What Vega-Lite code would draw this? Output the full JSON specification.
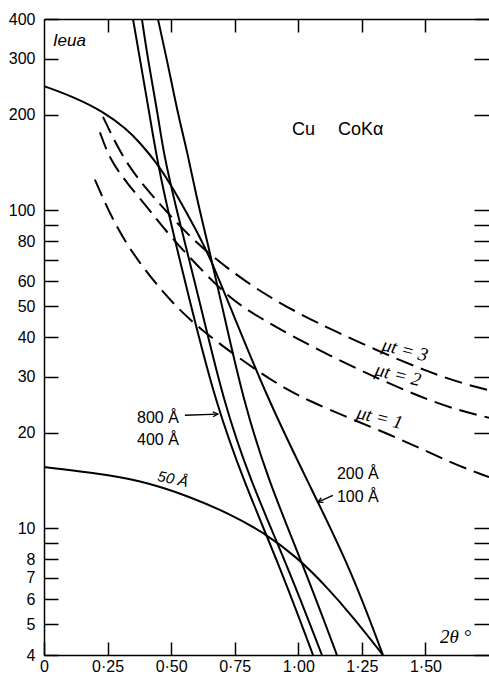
{
  "$schema": "https://vega.github.io/schema/vega-lite/v6.json",
  "width": 445,
  "height": 636,
  "autosize": {"type": "none"},
  "padding": {"left": 44, "top": 19, "right": 0, "bottom": 19},
  "background": "white",
  "config": {
    "view": {"stroke": null},
    "axis": {"domainColor": "black", "tickColor": "black", "labelColor": "black", "domainWidth": 1.5, "tickWidth": 1.5, "grid": false, "labelFont": "Liberation Sans", "labelFontSize": 16, "title": null}
  },
  "datasets": {
    "solid": [
      {"series": "800", "x": 0.350, "y": 400}, {"series": "800", "x": 0.378, "y": 297}, {"series": "800", "x": 0.415, "y": 200}, {"series": "800", "x": 0.437, "y": 157}, {"series": "800", "x": 0.476, "y": 108}, {"series": "800", "x": 0.582, "y": 48.6}, {"series": "800", "x": 0.672, "y": 25.4}, {"series": "800", "x": 0.783, "y": 14.2}, {"series": "800", "x": 0.928, "y": 7.57}, {"series": "800", "x": 1.058, "y": 4},
      {"series": "400", "x": 0.385, "y": 400}, {"series": "400", "x": 0.409, "y": 297}, {"series": "400", "x": 0.448, "y": 200}, {"series": "400", "x": 0.468, "y": 155}, {"series": "400", "x": 0.511, "y": 108}, {"series": "400", "x": 0.621, "y": 48.6}, {"series": "400", "x": 0.704, "y": 25.4}, {"series": "400", "x": 0.810, "y": 14.2}, {"series": "400", "x": 0.959, "y": 7.57}, {"series": "400", "x": 1.093, "y": 4},
      {"series": "200", "x": 0.448, "y": 400}, {"series": "200", "x": 0.484, "y": 297}, {"series": "200", "x": 0.527, "y": 200}, {"series": "200", "x": 0.562, "y": 155}, {"series": "200", "x": 0.602, "y": 108}, {"series": "200", "x": 0.641, "y": 80.7}, {"series": "200", "x": 0.704, "y": 48.6}, {"series": "200", "x": 0.783, "y": 25.4}, {"series": "200", "x": 0.881, "y": 14.2}, {"series": "200", "x": 1.022, "y": 7.57}, {"series": "200", "x": 1.152, "y": 4},
      {"series": "100", "x": 0, "y": 246}, {"series": "100", "x": 0.114, "y": 228}, {"series": "100", "x": 0.232, "y": 205}, {"series": "100", "x": 0.326, "y": 180}, {"series": "100", "x": 0.378, "y": 163}, {"series": "100", "x": 0.444, "y": 141}, {"series": "100", "x": 0.503, "y": 119}, {"series": "100", "x": 0.562, "y": 98}, {"series": "100", "x": 0.613, "y": 82.5}, {"series": "100", "x": 0.665, "y": 67.5}, {"series": "100", "x": 0.731, "y": 50}, {"series": "100", "x": 0.881, "y": 25.4}, {"series": "100", "x": 1.034, "y": 14.2}, {"series": "100", "x": 1.203, "y": 7.57}, {"series": "100", "x": 1.333, "y": 4},
      {"series": "50", "x": 0, "y": 15.6}, {"series": "50", "x": 0.181, "y": 15.0}, {"series": "50", "x": 0.378, "y": 14.2}, {"series": "50", "x": 0.574, "y": 12.6}, {"series": "50", "x": 0.731, "y": 11.1}, {"series": "50", "x": 0.861, "y": 9.75}, {"series": "50", "x": 0.995, "y": 8.13}, {"series": "50", "x": 1.113, "y": 6.54}, {"series": "50", "x": 1.215, "y": 5.27}, {"series": "50", "x": 1.333, "y": 4}
    ],
    "dashed": [
      {"series": "mu3", "x": 0.232, "y": 197}, {"series": "mu3", "x": 0.326, "y": 137}, {"series": "mu3", "x": 0.468, "y": 102}, {"series": "mu3", "x": 0.574, "y": 82.5}, {"series": "mu3", "x": 0.692, "y": 68.4}, {"series": "mu3", "x": 0.877, "y": 53.5}, {"series": "mu3", "x": 1.125, "y": 42.1}, {"series": "mu3", "x": 1.545, "y": 30.0}, {"series": "mu3", "x": 1.750, "y": 27.2},
      {"series": "mu2", "x": 0.220, "y": 176}, {"series": "mu2", "x": 0.260, "y": 144}, {"series": "mu2", "x": 0.326, "y": 122}, {"series": "mu2", "x": 0.417, "y": 100}, {"series": "mu2", "x": 0.484, "y": 84.9}, {"series": "mu2", "x": 0.692, "y": 56.2}, {"series": "mu2", "x": 0.810, "y": 47.6}, {"series": "mu2", "x": 1.125, "y": 34.6}, {"series": "mu2", "x": 1.545, "y": 24.4}, {"series": "mu2", "x": 1.750, "y": 22.3},
      {"series": "mu1", "x": 0.200, "y": 125}, {"series": "mu1", "x": 0.299, "y": 82.5}, {"series": "mu1", "x": 0.456, "y": 56.2}, {"series": "mu1", "x": 0.602, "y": 42.7}, {"series": "mu1", "x": 0.849, "y": 30.8}, {"series": "mu1", "x": 1.018, "y": 25.4}, {"series": "mu1", "x": 1.388, "y": 19.4}, {"series": "mu1", "x": 1.597, "y": 16.1}, {"series": "mu1", "x": 1.750, "y": 14.5}
    ],
    "labels": [
      {"text": "800 Å", "x": 0.366, "y": 22.2},
      {"text": "400 Å", "x": 0.366, "y": 19.0},
      {"text": "200 Å", "x": 1.152, "y": 14.8},
      {"text": "100 Å", "x": 1.152, "y": 12.6}
    ],
    "title": [
      {"text": "Cu", "x": 0.975, "y": 179},
      {"text": "CoKα", "x": 1.156, "y": 179}
    ],
    "ylabel": [{"text": "Ieua", "x": 0.035, "y": 341}],
    "xlabel": [{"text": "2θ °", "x": 1.557, "y": 4.56}],
    "mulabels": [
      {"text": "μt = 3", "x": 1.420, "y": 36.4},
      {"text": "μt = 2", "x": 1.392, "y": 30.4},
      {"text": "μt = 1", "x": 1.321, "y": 22.3}
    ],
    "sizelabel": [{"text": "50 Å", "x": 0.507, "y": 14.3}],
    "arrows": [
      {"arrow": "a800", "x": 0.554, "y": 22.7}, {"arrow": "a800", "x": 0.684, "y": 22.9},
      {"arrow": "a100", "x": 1.136, "y": 12.7}, {"arrow": "a100", "x": 1.077, "y": 12.1}
    ],
    "tip800": [{"x": 0.684, "y": 22.9}],
    "tip100": [{"x": 1.077, "y": 12.1}]
  },
  "layer": [
    {
      "data": {"name": "solid"},
      "mark": {"type": "line", "color": "black", "strokeWidth": 2, "interpolate": "basis", "clip": true},
      "encoding": {
        "x": {"field": "x", "type": "quantitative", "scale": {"domain": [0, 1.75], "nice": false, "zero": false},
          "axis": {"orient": "bottom", "values": [0, 0.25, 0.5, 0.75, 1, 1.25, 1.5], "labelExpr": "datum.value == 0 ? '0' : replace(format(datum.value, '.2f'), '.', '·')", "tickSize": -13, "labelPadding": 16, "labelFlush": false, "labelOverlap": false}},
        "y": {"field": "y", "type": "quantitative", "scale": {"type": "log", "domain": [4, 400], "nice": false},
          "axis": {"orient": "left", "values": [4, 5, 6, 7, 8, 9, 10, 20, 30, 40, 50, 60, 70, 80, 90, 100, 200, 300, 400], "labelExpr": "indexof([9, 70, 90], datum.value) >= 0 ? '' : format(datum.value, 'd')", "tickSize": -14, "labelPadding": 23, "labelFlush": false, "labelOverlap": false}},
        "detail": {"field": "series", "type": "nominal"}
      }
    },
    {
      "data": {"name": "dashed"},
      "mark": {"type": "line", "color": "black", "strokeWidth": 2, "strokeDash": [18, 8], "interpolate": "basis", "clip": true},
      "encoding": {
        "x": {"field": "x", "type": "quantitative", "scale": {"domain": [0, 1.75], "nice": false, "zero": false},
          "axis": {"orient": "top", "values": [0.25, 0.5, 0.75, 1, 1.25, 1.5], "labels": false, "tickSize": -13}},
        "y": {"field": "y", "type": "quantitative", "scale": {"type": "log", "domain": [4, 400], "nice": false},
          "axis": {"orient": "right", "values": [4, 5, 6, 7, 8, 9, 10, 20, 30, 40, 50, 60, 70, 80, 90, 100, 200, 300, 400], "labels": false, "domain": false, "tickSize": -15}},
        "detail": {"field": "series", "type": "nominal"}
      }
    },
    {
      "data": {"name": "labels"},
      "mark": {"type": "text", "align": "left", "baseline": "middle", "font": "Liberation Sans", "fontSize": 16, "color": "black"},
      "encoding": {
        "x": {"field": "x", "type": "quantitative", "scale": {"domain": [0, 1.75], "nice": false, "zero": false}, "axis": null},
        "y": {"field": "y", "type": "quantitative", "scale": {"type": "log", "domain": [4, 400], "nice": false}, "axis": null},
        "text": {"field": "text"}
      }
    },
    {
      "data": {"name": "title"},
      "mark": {"type": "text", "align": "left", "baseline": "middle", "font": "Liberation Sans", "fontSize": 18, "color": "black"},
      "encoding": {
        "x": {"field": "x", "type": "quantitative", "scale": {"domain": [0, 1.75], "nice": false, "zero": false}, "axis": null},
        "y": {"field": "y", "type": "quantitative", "scale": {"type": "log", "domain": [4, 400], "nice": false}, "axis": null},
        "text": {"field": "text"}
      }
    },
    {
      "data": {"name": "ylabel"},
      "mark": {"type": "text", "align": "left", "baseline": "middle", "font": "Liberation Sans", "fontStyle": "italic", "fontSize": 17, "color": "black"},
      "encoding": {
        "x": {"field": "x", "type": "quantitative", "scale": {"domain": [0, 1.75], "nice": false, "zero": false}, "axis": null},
        "y": {"field": "y", "type": "quantitative", "scale": {"type": "log", "domain": [4, 400], "nice": false}, "axis": null},
        "text": {"field": "text"}
      }
    },
    {
      "data": {"name": "xlabel"},
      "mark": {"type": "text", "align": "left", "baseline": "middle", "font": "Liberation Serif", "fontStyle": "italic", "fontSize": 19, "color": "black"},
      "encoding": {
        "x": {"field": "x", "type": "quantitative", "scale": {"domain": [0, 1.75], "nice": false, "zero": false}, "axis": null},
        "y": {"field": "y", "type": "quantitative", "scale": {"type": "log", "domain": [4, 400], "nice": false}, "axis": null},
        "text": {"field": "text"}
      }
    },
    {
      "data": {"name": "mulabels"},
      "mark": {"type": "text", "align": "center", "baseline": "middle", "font": "Liberation Serif", "fontStyle": "italic", "fontSize": 19, "angle": 14, "color": "black"},
      "encoding": {
        "x": {"field": "x", "type": "quantitative", "scale": {"domain": [0, 1.75], "nice": false, "zero": false}, "axis": null},
        "y": {"field": "y", "type": "quantitative", "scale": {"type": "log", "domain": [4, 400], "nice": false}, "axis": null},
        "text": {"field": "text"}
      }
    },
    {
      "data": {"name": "sizelabel"},
      "mark": {"type": "text", "align": "center", "baseline": "middle", "font": "Liberation Sans", "fontStyle": "italic", "fontSize": 15, "angle": 12, "color": "black"},
      "encoding": {
        "x": {"field": "x", "type": "quantitative", "scale": {"domain": [0, 1.75], "nice": false, "zero": false}, "axis": null},
        "y": {"field": "y", "type": "quantitative", "scale": {"type": "log", "domain": [4, 400], "nice": false}, "axis": null},
        "text": {"field": "text"}
      }
    },
    {
      "data": {"name": "arrows"},
      "mark": {"type": "line", "color": "black", "strokeWidth": 1.3},
      "encoding": {
        "x": {"field": "x", "type": "quantitative", "scale": {"domain": [0, 1.75], "nice": false, "zero": false}, "axis": null},
        "y": {"field": "y", "type": "quantitative", "scale": {"type": "log", "domain": [4, 400], "nice": false}, "axis": null},
        "detail": {"field": "arrow", "type": "nominal"}
      }
    },
    {
      "data": {"name": "tip800"},
      "mark": {"type": "point", "shape": "M-1,-0.5L0,0L-1,0.5", "filled": false, "stroke": "black", "strokeWidth": 1.3, "size": 100, "angle": -3, "opacity": 1},
      "encoding": {
        "x": {"field": "x", "type": "quantitative", "scale": {"domain": [0, 1.75], "nice": false, "zero": false}, "axis": null},
        "y": {"field": "y", "type": "quantitative", "scale": {"type": "log", "domain": [4, 400], "nice": false}, "axis": null}
      }
    },
    {
      "data": {"name": "tip100"},
      "mark": {"type": "point", "shape": "M-1,-0.5L0,0L-1,0.5", "filled": false, "stroke": "black", "strokeWidth": 1.3, "size": 100, "angle": 155, "opacity": 1},
      "encoding": {
        "x": {"field": "x", "type": "quantitative", "scale": {"domain": [0, 1.75], "nice": false, "zero": false}, "axis": null},
        "y": {"field": "y", "type": "quantitative", "scale": {"type": "log", "domain": [4, 400], "nice": false}, "axis": null}
      }
    }
  ],
  "resolve": {"axis": {"x": "independent", "y": "independent"}}
}
